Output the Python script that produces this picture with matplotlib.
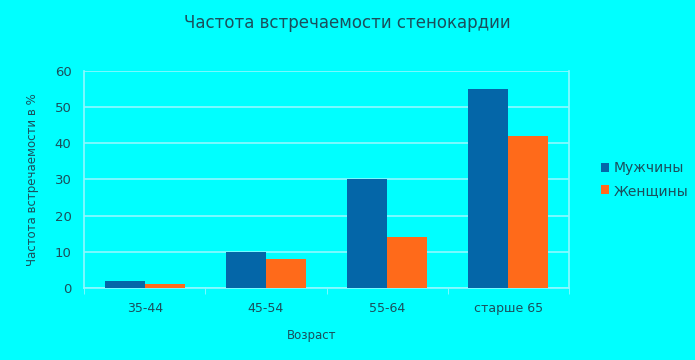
import matplotlib.pyplot as plt
import numpy as np

plt.rcParams['font.family'] = ['DejaVu Sans']

categories = ['35-44', '45-54', '55-64', 'старше 65']
men = [2, 10, 30, 55]
women = [1, 8, 14, 42]
series_names = ['Мужчины', 'Женщины']

bg = '#00ffff'
txt = '#1b4f5c'
blue = '#0466a8'
orange = '#ff6a1a'
grid_c = '#8ff8ff'

fig = plt.figure(figsize=(6.95, 3.6), dpi=100)
fig.patch.set_facecolor(bg)
ax = fig.add_axes([0.1209, 0.2, 0.6978, 0.6028])
ax.set_facecolor(bg)

x = np.arange(len(categories))
w = 0.33
ax.bar(x - w / 2, men, w, color=blue, label=series_names[0], zorder=3)
ax.bar(x + w / 2, women, w, color=orange, label=series_names[1], zorder=3)

ax.set_xlim(-0.5, len(categories) - 0.5)
ax.set_ylim(0, 60)
ax.set_yticks(range(0, 61, 10))
ax.set_xticks(x)
ax.set_xticklabels(categories)
ax.set_xticks(np.arange(-0.5, len(categories), 1), minor=True)
ax.tick_params(axis='x', which='major', length=0, pad=10, colors=txt, labelsize=9)
ax.tick_params(axis='x', which='minor', length=4, color=grid_c)
ax.tick_params(axis='y', length=0, pad=9, colors=txt, labelsize=9.5)
ax.yaxis.grid(True, color=grid_c, linewidth=1.2, zorder=0)

for s in ax.spines.values():
    s.set_color(grid_c)
    s.set_linewidth(1.2)
ax.spines['top'].set_visible(False)

ax.set_xlabel('Возраст', color=txt, fontsize=8.5, labelpad=10, x=0.47)
ax.set_ylabel('Частота встречаемости в %', color=txt, fontsize=8.5, labelpad=11)
fig.text(0.5, 0.935, 'Частота встречаемости стенокардии', ha='center', va='center',
         color=txt, fontsize=12)

leg = ax.legend(loc='center left', bbox_to_anchor=(1.04, 0.5), frameon=False,
                handlelength=0.6, handleheight=0.6, handletextpad=0.3,
                labelspacing=0.6, fontsize=10, labelcolor=txt)

fig.savefig('out.png', dpi=100, facecolor=bg)
